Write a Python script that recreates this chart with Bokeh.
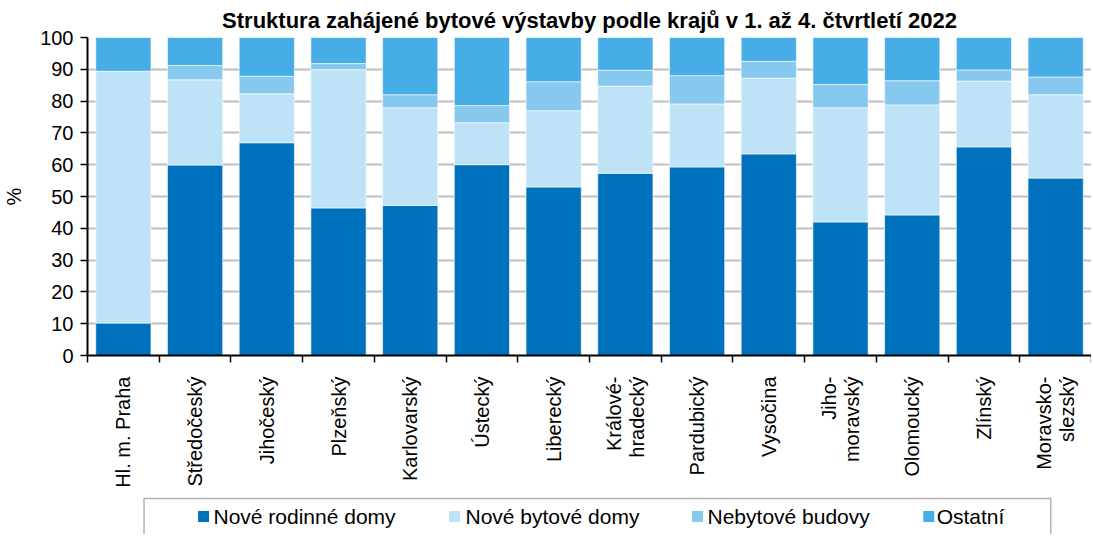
import math
from bokeh.plotting import figure
from bokeh.layouts import column
from bokeh.models import ColumnDataSource, FixedTicker, Range1d, BoxAnnotation
from bokeh.core.properties import value
from bokeh.embed import file_html
from bokeh.resources import INLINE

title_text = "Struktura zahájené bytové výstavby podle krajů v 1. až 4. čtvrtletí 2022"
regions = ["Hl. m. Praha", "Středočeský", "Jihočeský", "Plzeňský", "Karlovarský", "Ústecký",
           "Liberecký", "Královéhradecký", "Pardubický", "Vysočina", "Jihomoravský",
           "Olomoucký", "Zlínský", "Moravskoslezský"]
# tick label lines for each region (two-line labels are split as in the original)
region_label_lines = [["Hl. m. Praha"], ["Středočeský"], ["Jihočeský"], ["Plzeňský"], ["Karlovarský"],
                      ["Ústecký"], ["Liberecký"], ["Králové-", "hradecký"], ["Pardubický"], ["Vysočina"],
                      ["Jiho-", "moravský"], ["Olomoucký"], ["Zlínský"], ["Moravsko-", "slezský"]]
series_names = ["Nové rodinné domy", "Nové bytové domy", "Nebytové budovy", "Ostatní"]
rodinne = [10.2, 59.9, 66.9, 46.4, 47.2, 60.0, 53.0, 57.3, 59.3, 63.4, 42.0, 44.2, 65.6, 55.8]
bytove = [79.2, 26.8, 15.4, 43.5, 30.7, 13.2, 24.0, 27.4, 19.8, 23.8, 35.9, 34.6, 20.7, 26.2]
nebytove = [0.0, 4.5, 5.5, 1.9, 4.1, 5.4, 9.1, 5.0, 8.9, 5.3, 7.3, 7.6, 3.5, 5.6]
ostatni = [10.6, 8.8, 12.2, 8.2, 18.0, 21.4, 13.9, 10.3, 12.0, 7.5, 14.8, 13.6, 10.2, 12.4]
y_ticks = [0, 10, 20, 30, 40, 50, 60, 70, 80, 90, 100]

colors = ["#0071BC", "#BEE3F6", "#86C8EE", "#47ADE6"]
FONT = "Liberation Sans"
LINE_OFFSET = 0.16  # half line spacing of two-line labels, in category units

# legend layout (pixels from the plot frame's left edge / from the legend strip's top)
LEGEND_SQUARE_X = [117, 370, 615, 848]
LEGEND_TEXT_X = [127, 381, 625, 856]
LEGEND_ROW_Y = 26
LEGEND_BOX = dict(left=57, right=971, top=8)

n = len(regions)
centers = [i + 0.5 for i in range(n)]
bounds = [float(i) for i in range(n + 1)]

label_ticks = []
label_overrides = {}
for c, lines in zip(centers, region_label_lines):
    if len(lines) == 1:
        label_ticks.append(c)
        label_overrides[c] = lines[0]
    else:
        for k, line in enumerate(lines):
            t = c + (k - (len(lines) - 1) / 2) * 2 * LINE_OFFSET
            label_ticks.append(t)
            label_overrides[t] = line

source = ColumnDataSource(dict(x=centers, rd=rodinne, bd=bytove, nb=nebytove, os=ostatni))

FRAME_W = 1004
p = figure(frame_width=FRAME_W, frame_height=318, output_backend="svg", toolbar_location=None,
           x_range=Range1d(0, n), y_range=Range1d(0, 100),
           min_border_left=0, min_border_right=0, min_border_top=4, min_border_bottom=0)

renderers = p.vbar_stack(["rd", "bd", "nb", "os"], x="x", width=0.77, source=source,
                         color=colors, line_color="white", line_width=0.6)

p.title.text = title_text
p.title.text_font = FONT
p.title.text_font_size = "22px"
p.title.text_font_style = "bold"
p.title.align = "center"
p.title.text_color = "black"

# x axis
p.xaxis.ticker = FixedTicker(ticks=label_ticks, minor_ticks=bounds)
p.xaxis.major_label_overrides = label_overrides
p.xaxis.major_tick_out = 0
p.xaxis.major_tick_in = 0
p.xaxis.minor_tick_out = 7
p.xaxis.minor_tick_in = 0
p.xaxis.minor_tick_line_color = "black"
p.xaxis.minor_tick_line_width = 1.5
p.xaxis.major_label_orientation = math.pi / 2
p.xaxis.major_label_text_font = FONT
p.xaxis.major_label_text_font_size = "20px"
p.xaxis.major_label_text_color = "black"
p.xaxis.major_label_standoff = 14
p.xaxis.axis_line_color = "black"
p.xaxis.axis_line_width = 2

# y axis
p.yaxis.ticker = FixedTicker(ticks=y_ticks)
p.yaxis.minor_tick_line_color = None
p.yaxis.major_tick_out = 7
p.yaxis.major_tick_in = 0
p.yaxis.major_tick_line_width = 1.5
p.yaxis.major_label_standoff = 7
p.yaxis.major_label_text_font = FONT
p.yaxis.major_label_text_font_size = "20px"
p.yaxis.major_label_text_color = "black"
p.yaxis.axis_line_color = "black"
p.yaxis.axis_line_width = 2
p.yaxis.axis_label = "%"
p.yaxis.axis_label_text_font = FONT
p.yaxis.axis_label_text_font_size = "20px"
p.yaxis.axis_label_text_font_style = "normal"
p.yaxis.axis_label_text_color = "black"
p.yaxis.axis_label_standoff = 12

p.xgrid.grid_line_color = None
p.ygrid.grid_line_color = "#C0C0C0"
p.ygrid.grid_line_width = 2
p.outline_line_color = None
p.background_fill_color = "white"
p.border_fill_color = "white"

# legend strip below the chart (its frame is aligned with the chart frame)
LH = 44
pl = figure(width=1083, height=LH, output_backend="svg", toolbar_location=None,
            x_range=Range1d(0, FRAME_W), y_range=Range1d(LH, 0),
            x_axis_location=None, y_axis_location=None, min_border=0)
pl.grid.visible = False
pl.outline_line_color = None
pl.background_fill_color = "white"
pl.border_fill_color = "white"
pl.add_layout(BoxAnnotation(left=LEGEND_BOX["left"], right=LEGEND_BOX["right"],
                            top=LEGEND_BOX["top"], bottom=LH + 10,
                            fill_alpha=0, line_color="black", line_width=1.5))
leg_src = ColumnDataSource(dict(sx=LEGEND_SQUARE_X, tx=LEGEND_TEXT_X,
                                y=[LEGEND_ROW_Y] * len(series_names),
                                label=series_names, color=colors))
pl.scatter(x="sx", y="y", marker="square", size=11, fill_color="color", line_color=None, source=leg_src)
pl.text(x="tx", y="y", text="label", source=leg_src, text_font=value(FONT), text_font_size="21px",
        text_baseline="middle", text_align="left", text_color="black")

layout = column(p, pl, spacing=0)
open("out.html", "w").write(file_html(layout, INLINE))
